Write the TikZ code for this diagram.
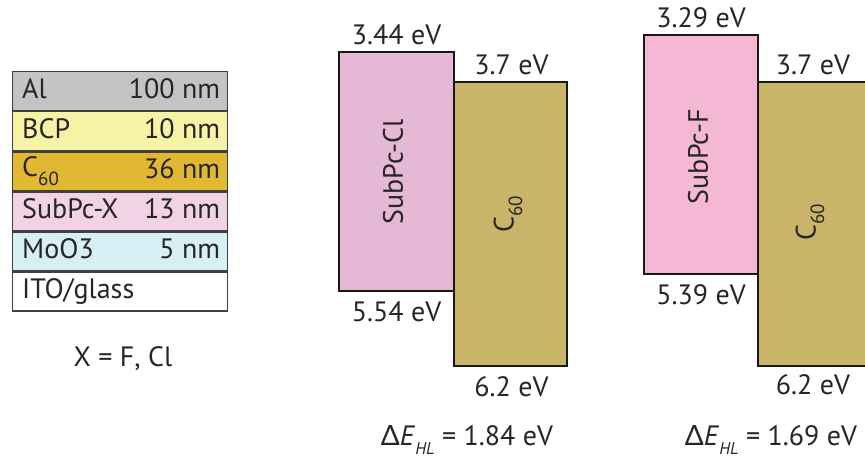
\documentclass[tikz,border=0pt]{standalone}
\usepackage{fontspec}
\setmainfont{PT Sans}
\newfontfamily\grk{Lato}
\newcommand{\csub}[1]{\raisebox{-0.3em}{\fontsize{19}{19}\selectfont #1}}
\begin{document}
\begin{tikzpicture}[x=1pt,y=-1pt,
  txt/.style={font=\fontsize{28}{30}\selectfont, inner sep=0pt, text=black!85},
  layer/.style={draw=black!75, line width=1.3pt},
  band/.style={draw=black!90, line width=2pt}]
\clip (0,0) rectangle (865,461);
\useasboundingbox (0,0) rectangle (865,461);
% layer stack
\definecolor{alc}{HTML}{C4C4C4}
\definecolor{bcpc}{HTML}{F7F3A6}
\definecolor{cc}{HTML}{E0B832}
\definecolor{subc}{HTML}{F1D3E5}
\definecolor{mooc}{HTML}{D7EEF5}
\definecolor{clc}{HTML}{E5B8D6}
\definecolor{fc}{HTML}{F5B8D4}
\definecolor{c60c}{HTML}{C9B46A}
\node[layer, fill=alc, minimum width=215, minimum height=38.8, anchor=north west] (al) at (12,71) {};
\node[layer, fill=bcpc, minimum width=215, minimum height=38.8, anchor=north] (bcp) at (al.south) {};
\node[layer, fill=cc, minimum width=215, minimum height=38.8, anchor=north] (c60l) at (bcp.south) {};
\node[layer, fill=subc, minimum width=215, minimum height=38.8, anchor=north] (subl) at (c60l.south) {};
\node[layer, fill=mooc, minimum width=215, minimum height=38.8, anchor=north] (moo) at (subl.south) {};
\node[layer, fill=white, minimum width=215, minimum height=38.8, anchor=north] (ito) at (moo.south) {};
\foreach \n/\a/\b in {al/Al/100 nm, bcp/BCP/10 nm, c60l/{C\csub{60}}/36 nm, subl/SubPc-X/13 nm, moo/MoO3/5 nm}{
  \node[txt, anchor=west] (\n L) at ([xshift=10]\n.west) {\a\vphantom{Cp}};
  \node[txt, anchor=east] (\n R) at ([xshift=-8]\n.east) {\b\vphantom{Cp}};
}
\node[txt, anchor=west] (itoL) at ([xshift=10]ito.west) {ITO/glass\vphantom{Cp}};
\node[txt] (xlab) at (123,359) {X = F, Cl};
% diagram 1
\node[band, fill=clc, minimum width=115, minimum height=239, anchor=north west] (scl) at (338,51) {};
\node[band, fill=c60c, minimum width=113, minimum height=284, anchor=north west] (c1) at (453,81) {};
\node[txt, rotate=90] (sclt) at (393,172) {SubPc-Cl};
\node[txt, rotate=90] (c1t) at (508,214) {C\csub{60}};
\node[txt, anchor=south] (e1) at ([yshift=6]scl.north) {3.44 eV};
\node[txt, anchor=south] (e2) at ([xshift=1,yshift=6]c1.north) {3.7 eV};
\node[txt, anchor=north] (e3) at ([yshift=-9]scl.south) {5.54 eV};
\node[txt, anchor=north] (e4) at ([xshift=1,yshift=-9]c1.south) {6.2 eV};
\node[txt] (d1) at (467,440) {{\grk Δ}\textit{E}\raisebox{-0.35em}{\fontsize{17}{17}\selectfont\itshape HL} = 1.84 eV};
% diagram 2
\node[band, fill=fc, minimum width=114, minimum height=239, anchor=north west] (sf) at (643,34) {};
\node[band, fill=c60c, minimum width=120, minimum height=284, anchor=north west] (c2) at (757,81) {};
\node[txt, rotate=90] (sft) at (698,157) {SubPc-F};
\node[txt, rotate=90] (c2t) at (810,222) {C\csub{60}};
\node[txt, anchor=south] (f1) at ([yshift=6]sf.north) {3.29 eV};
\node[txt, anchor=south] (f2) at (813,75) {3.7 eV};
\node[txt, anchor=north] (f3) at ([yshift=-9]sf.south) {5.39 eV};
\node[txt, anchor=north] (f4) at (813,374) {6.2 eV};
\node[txt] (d2) at (771,440) {{\grk Δ}\textit{E}\raisebox{-0.35em}{\fontsize{17}{17}\selectfont\itshape HL} = 1.69 eV};
\end{tikzpicture}
\end{document}
